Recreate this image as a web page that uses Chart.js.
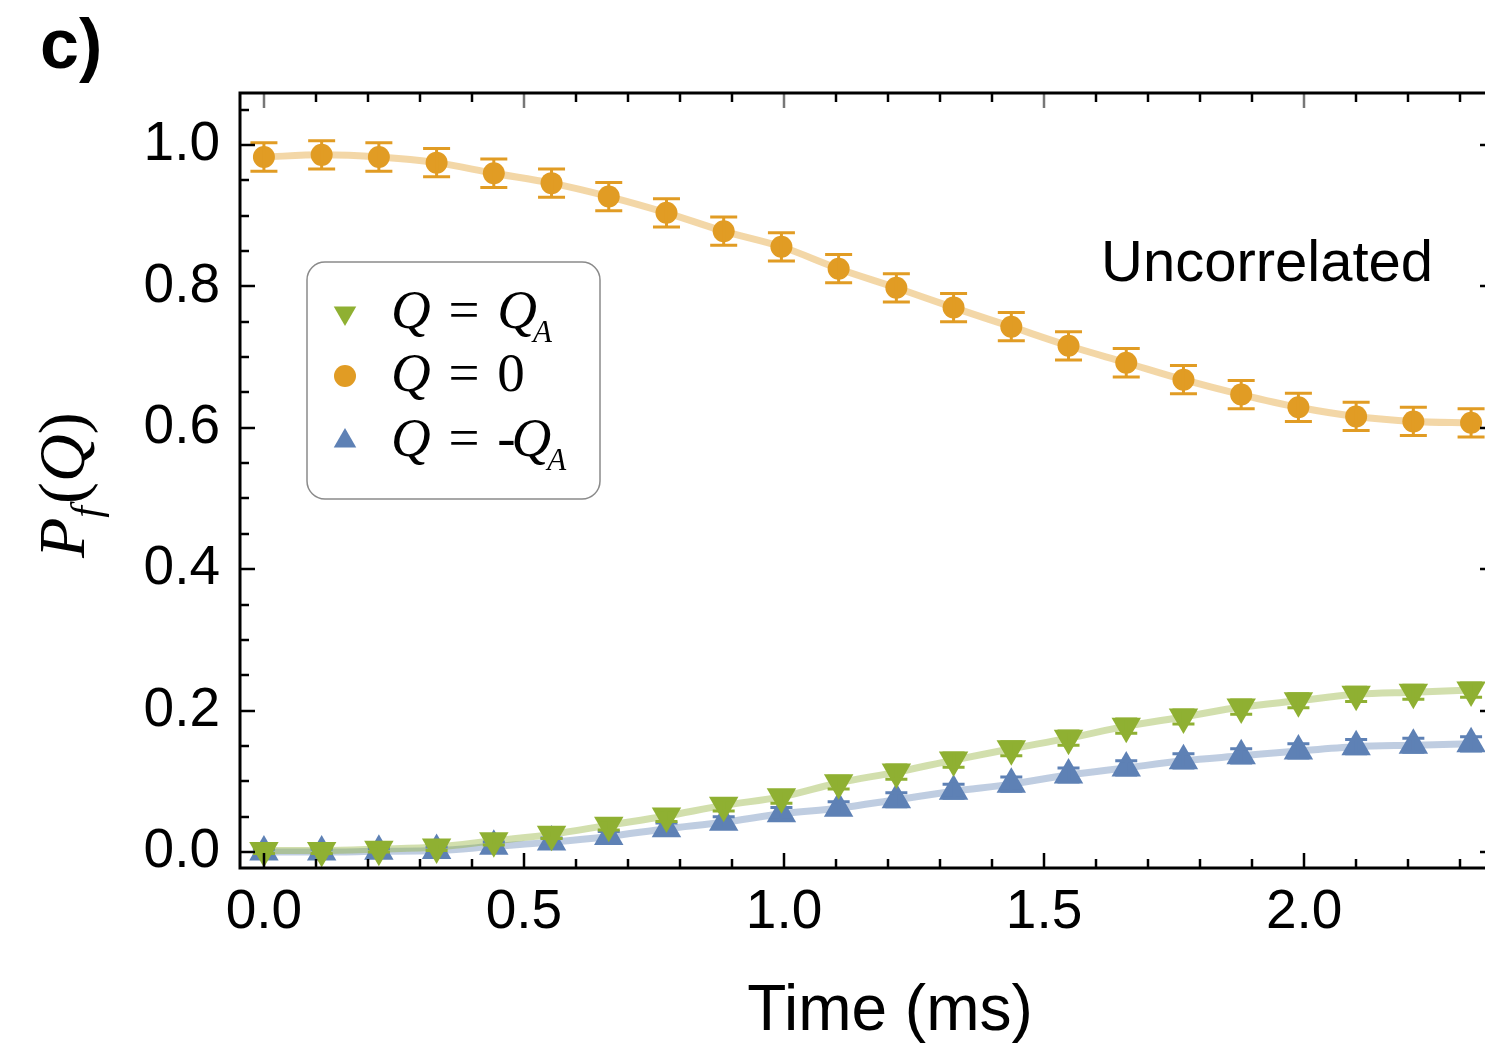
<!DOCTYPE html>
<html>
<head>
<meta charset="utf-8">
<title>P_f(Q) vs time</title>
<script src="https://cdn.jsdelivr.net/npm/chart.js@4.4.1/dist/chart.umd.min.js"></script>
<style>
  html, body { margin: 0; padding: 0; background: #fff; overflow: hidden; }
  #wrap { width: 1485px; height: 1050px; overflow: hidden; position: relative; }
  canvas { display: block; }
</style>
</head>
<body>
<div id="wrap"><canvas id="chart" width="1500" height="1050"></canvas></div>
<script>
// Measurement times (ms)
const timesMs = [0.000, 0.111, 0.221, 0.332, 0.442, 0.553, 0.663, 0.774, 0.884, 0.995, 1.105,
                 1.216, 1.326, 1.437, 1.547, 1.658, 1.768, 1.879, 1.989, 2.100, 2.210, 2.321];

// Final-state probabilities for each charge outcome
const pZero    = [0.983, 0.986, 0.983, 0.975, 0.960, 0.946, 0.927, 0.904, 0.878, 0.856, 0.825,
                  0.798, 0.770, 0.743, 0.716, 0.692, 0.668, 0.647, 0.629, 0.616, 0.609, 0.607];
const pPlusQA  = [0.002, 0.002, 0.004, 0.007, 0.016, 0.025, 0.038, 0.051, 0.066, 0.078, 0.098,
                  0.113, 0.130, 0.146, 0.161, 0.178, 0.191, 0.205, 0.214, 0.223, 0.226, 0.229];
const pMinusQA = [0.000, 0.000, 0.001, 0.002, 0.008, 0.014, 0.022, 0.033, 0.042, 0.054, 0.062,
                  0.074, 0.086, 0.096, 0.109, 0.119, 0.129, 0.136, 0.143, 0.149, 0.151, 0.153];

// One-sigma uncertainties
const errZero    = [0.020, 0.020, 0.020, 0.020, 0.020, 0.020, 0.020, 0.020, 0.020, 0.020, 0.020,
                    0.020, 0.020, 0.020, 0.020, 0.020, 0.020, 0.020, 0.020, 0.020, 0.020, 0.020];
const errPlusQA  = [0.004, 0.004, 0.004, 0.005, 0.006, 0.006, 0.007, 0.008, 0.008, 0.009, 0.009,
                    0.010, 0.010, 0.010, 0.010, 0.010, 0.010, 0.010, 0.010, 0.010, 0.010, 0.010];
const errMinusQA = [0.004, 0.004, 0.004, 0.005, 0.006, 0.006, 0.007, 0.008, 0.008, 0.009, 0.009,
                    0.010, 0.010, 0.010, 0.010, 0.010, 0.010, 0.010, 0.010, 0.010, 0.010, 0.010];

// Axis ticks
const xMajorTicks = [0.0, 0.5, 1.0, 1.5, 2.0];
const xTickLabels = ['0.0', '0.5', '1.0', '1.5', '2.0'];
const yMajorTicks = [0.0, 0.2, 0.4, 0.6, 0.8, 1.0];
const yTickLabels = ['0.0', '0.2', '0.4', '0.6', '0.8', '1.0'];

const GREEN  = '#8fb032';
const ORANGE = '#e19c24';
const BLUE   = '#5e81b5';
const SANS   = '"Liberation Sans", Arial, Helvetica, sans-serif';
const SERIF  = '"Liberation Serif", "Times New Roman", serif';

const toPoints = ys => ys.map((y, i) => ({ x: timesMs[i], y }));

// Draws a sequence of text runs left-to-right from (x, y) on the current baseline
function drawRuns(ctx, runs, x, y) {
  let cx = x;
  for (const r of runs) {
    ctx.font = r.font;
    ctx.fillText(r.t, cx + (r.dx || 0), y + (r.dy || 0));
    cx += ctx.measureText(r.t).width + (r.dx || 0) + (r.after || 0);
  }
}

function markerPath(ctx, style, x, y, r) {
  ctx.beginPath();
  if (style === 'circle') {
    ctx.arc(x, y, r, 0, Math.PI * 2);
  } else {
    const dir = style === 'down' ? -1 : 1;
    const half = r * Math.sqrt(3) / 2;
    ctx.moveTo(x, y - dir * r);
    ctx.lineTo(x + half, y + dir * r / 2);
    ctx.lineTo(x - half, y + dir * r / 2);
    ctx.closePath();
  }
}

const decor = {
  id: 'decor',
  afterDatasetDraw(chart, args) {
    const ds = chart.data.datasets[args.index];
    if (!ds.errors) return;
    const { ctx } = chart;
    const xs = chart.scales.x, ys = chart.scales.y;
    ctx.save();
    ctx.strokeStyle = ds.backgroundColor;
    ctx.lineWidth = 3;
    ds.data.forEach((p, i) => {
      const e = ds.errors[i];
      const px = xs.getPixelForValue(p.x);
      const top = ys.getPixelForValue(p.y + e);
      const bot = ys.getPixelForValue(p.y - e);
      const w = ds.capHalf;
      ctx.beginPath();
      ctx.moveTo(px, top); ctx.lineTo(px, bot);
      ctx.moveTo(px - w, top); ctx.lineTo(px + w, top);
      ctx.moveTo(px - w, bot); ctx.lineTo(px + w, bot);
      ctx.stroke();
    });
    ctx.restore();
  },
  afterDraw(chart) {
    const { ctx, chartArea: a } = chart;
    const xs = chart.scales.x, ys = chart.scales.y;
    ctx.save();

    // tick marks on all four sides, pointing inward
    ctx.lineWidth = 2.5;
    for (let k = 0; k <= 23; k++) {
      const major = k % 5 === 0;
      const len = major ? 15 : 9;
      const px = Math.round(xs.getPixelForValue(k / 10));
      ctx.strokeStyle = '#000';
      ctx.beginPath(); ctx.moveTo(px, a.bottom); ctx.lineTo(px, a.bottom - len); ctx.stroke();
      ctx.strokeStyle = major ? '#777' : '#000';
      ctx.beginPath(); ctx.moveTo(px, a.top); ctx.lineTo(px, a.top + len); ctx.stroke();
    }
    ctx.strokeStyle = '#000';
    for (let k = 0; k <= 21; k++) {
      const len = k % 4 === 0 ? 15 : 9;
      const py = Math.round(ys.getPixelForValue(k / 20));
      ctx.beginPath(); ctx.moveTo(a.left, py); ctx.lineTo(a.left + len, py); ctx.stroke();
      ctx.beginPath(); ctx.moveTo(a.right, py); ctx.lineTo(a.right - len, py); ctx.stroke();
    }

    // frame
    ctx.lineWidth = 3;
    ctx.strokeStyle = '#000';
    ctx.strokeRect(a.left, a.top, a.right - a.left, a.bottom - a.top);

    // legend box
    const bx = 307, by = 262, bw = 293, bh = 237, br = 18;
    ctx.beginPath();
    ctx.roundRect(bx, by, bw, bh, br);
    ctx.fillStyle = '#fff';
    ctx.fill();
    ctx.lineWidth = 1.5;
    ctx.strokeStyle = '#8a8a8a';
    ctx.stroke();

    const big = 55, sub = 31;
    const it = s => `italic ${s}px ${SERIF}`;
    const up = s => `${s}px ${SERIF}`;
    const rows = [
      { style: 'down', color: GREEN, base: 328,
        runs: [{ t: 'Q', font: it(big), after: 4 }, { t: ' = ', font: up(big), after: 4 }, { t: 'Q', font: it(big) },
               { t: 'A', font: it(sub), dy: 14, dx: -4 }] },
      { style: 'circle', color: ORANGE, base: 391,
        runs: [{ t: 'Q', font: it(big), after: 4 }, { t: ' = ', font: up(big), after: 4 }, { t: '0', font: up(big) }] },
      { style: 'up', color: BLUE, base: 456,
        runs: [{ t: 'Q', font: it(big), after: 4 }, { t: ' = ', font: up(big), after: 4 }, { t: '-', font: up(big), after: -4 },
               { t: 'Q', font: it(big) }, { t: 'A', font: it(sub), dy: 14, dx: -4 }] }
    ];
    ctx.textBaseline = 'alphabetic';
    ctx.textAlign = 'left';
    for (const r of rows) {
      ctx.fillStyle = r.color;
      markerPath(ctx, r.style, 345, r.base - 15, r.style === 'circle' ? 11 : 13);
      ctx.fill();
      ctx.fillStyle = '#000';
      drawRuns(ctx, r.runs, 391, r.base);
    }

    // annotation
    ctx.fillStyle = '#000';
    ctx.font = `58px ${SANS}`;
    ctx.fillText('Uncorrelated', 1101, 281);

    // panel tag
    ctx.font = `bold 70px ${SANS}`;
    ctx.fillText('c)', 40, 68);

    // x-axis title
    ctx.font = `64px ${SANS}`;
    ctx.textAlign = 'center';
    ctx.fillText('Time (ms)', 890, 1030);
    ctx.textAlign = 'left';

    // y-axis title P_f(Q), rotated
    ctx.translate(84, 558);
    ctx.rotate(-Math.PI / 2);
    drawRuns(ctx, [
      { t: 'P', font: it(66) },
      { t: 'f', font: it(42), dy: 16, after: 2 },
      { t: '(', font: up(66) },
      { t: 'Q', font: it(66) },
      { t: ')', font: up(66) }
    ], 0, 0);

    ctx.restore();
  }
};

const fitLine = (ys, rgba) => ({
  type: 'line',
  data: toPoints(ys),
  showLine: true,
  borderColor: rgba,
  borderWidth: 7,
  pointRadius: 0,
  cubicInterpolationMode: 'monotone',
  fill: false,
  order: 10
});

new Chart(document.getElementById('chart').getContext('2d'), {
  type: 'scatter',
  data: {
    datasets: [
      fitLine(pZero, 'rgba(225,156,36,0.4)'),
      fitLine(pPlusQA, 'rgba(143,176,50,0.4)'),
      fitLine(pMinusQA, 'rgba(94,129,181,0.4)'),
      { label: 'Q = -Q_A', data: toPoints(pMinusQA), errors: errMinusQA, capHalf: 11,
        pointStyle: 'triangle', pointRadius: 17, backgroundColor: BLUE, borderWidth: 0, order: 3 },
      { label: 'Q = Q_A', data: toPoints(pPlusQA), errors: errPlusQA, capHalf: 11,
        pointStyle: 'triangle', rotation: 180, pointRadius: 17, backgroundColor: GREEN, borderWidth: 0, order: 2 },
      { label: 'Q = 0', data: toPoints(pZero), errors: errZero, capHalf: 13.5,
        pointStyle: 'circle', pointRadius: 11, backgroundColor: ORANGE, borderWidth: 0, order: 1 }
    ]
  },
  options: {
    responsive: false,
    animation: false,
    devicePixelRatio: 1,
    layout: { autoPadding: false, padding: { top: 93, right: 5, left: 0, bottom: 0 } },
    plugins: { legend: { display: false }, tooltip: { enabled: false } },
    scales: {
      x: {
        type: 'linear', min: -0.046, max: 2.367,
        grid: { display: false, drawTicks: false }, border: { display: false },
        afterBuildTicks: s => { s.ticks = xMajorTicks.map(v => ({ value: v })); },
        afterFit: s => { s.height = 182; s.paddingLeft = 0; s.paddingRight = 0; },
        ticks: {
          autoSkip: false, maxRotation: 0, padding: 12, color: '#000',
          font: { family: SANS, size: 55 },
          callback: v => xTickLabels[xMajorTicks.indexOf(v)]
        }
      },
      y: {
        type: 'linear', min: -0.0226, max: 1.0735,
        grid: { display: false, drawTicks: false }, border: { display: false },
        afterBuildTicks: s => { s.ticks = yMajorTicks.map(v => ({ value: v })); },
        afterFit: s => { s.width = 240; s.paddingTop = 0; s.paddingBottom = 0; },
        ticks: {
          autoSkip: false, padding: 20, color: '#000',
          font: { family: SANS, size: 55 },
          callback: v => yTickLabels[yMajorTicks.indexOf(v)]
        }
      }
    }
  },
  plugins: [decor]
});
</script>
</body>
</html>
